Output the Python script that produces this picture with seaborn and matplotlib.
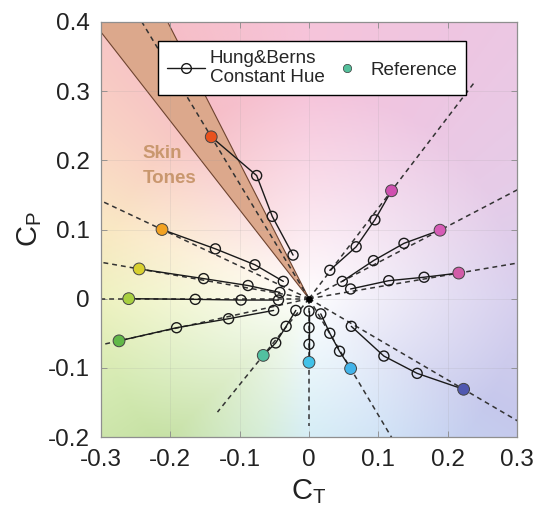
import numpy as np
import pandas as pd
import matplotlib
matplotlib.use("Agg")
import matplotlib.pyplot as plt
from matplotlib.lines import Line2D
from matplotlib.patches import Polygon
from matplotlib.colors import to_rgb
import seaborn as sns

# ---------------- data ----------------
ref_ct = [-0.141, -0.212, -0.245, -0.260, -0.274, -0.066, 0.000, 0.060, 0.223, 0.119, 0.189, 0.216]
ref_cp = [0.234, 0.100, 0.043, 0.000, -0.061, -0.082, -0.092, -0.101, -0.131, 0.156, 0.099, 0.037]
ref_colors = ["#E8521E", "#F2A222", "#D8D030", "#A8D040", "#62B848", "#52C0A0",
              "#42C2E8", "#42B4EA", "#5058B0", "#D050B0", "#D65CB6", "#D25CA8"]

hb_ct = [[-0.023, -0.053, -0.0755],
         [-0.037, -0.078, -0.135],
         [-0.042, -0.088, -0.152],
         [-0.044, -0.098, -0.164],
         [-0.051, -0.116, -0.191],
         [-0.019, -0.033, -0.048],
         [0.000, 0.000, 0.000],
         [0.017, 0.030, 0.044],
         [0.061, 0.108, 0.156],
         [0.030, 0.068, 0.095],
         [0.048, 0.093, 0.137],
         [0.060, 0.115, 0.166]]
hb_cp = [[0.063, 0.119, 0.178],
         [0.025, 0.049, 0.072],
         [0.009, 0.019, 0.029],
         [-0.002, -0.002, -0.001],
         [-0.017, -0.029, -0.042],
         [-0.017, -0.040, -0.064],
         [-0.018, -0.042, -0.066],
         [-0.022, -0.050, -0.076],
         [-0.040, -0.083, -0.108],
         [0.041, 0.075, 0.114],
         [0.025, 0.055, 0.080],
         [0.014, 0.026, 0.031]]

skin_angles_deg = [117.0, 127.9]

x_ticks = [-0.3, -0.2, -0.1, 0.0, 0.1, 0.2, 0.3]
x_ticklabels = ["-0.3", "-0.2", "-0.1", "0", "0.1", "0.2", "0.3"]
y_ticks = [-0.2, -0.1, 0.0, 0.1, 0.2, 0.3, 0.4]
y_ticklabels = ["-0.2", "-0.1", "0", "0.1", "0.2", "0.3", "0.4"]

# ---------------- style ----------------
sns.set_style("ticks")
plt.rcParams["font.family"] = ["Liberation Sans", "DejaVu Sans"]
plt.rcParams["mathtext.fontset"] = "custom"
plt.rcParams["mathtext.rm"] = "Liberation Sans"
plt.rcParams["mathtext.it"] = "Liberation Sans"

fig = plt.figure(figsize=(5.36, 5.13), dpi=100)
ax = fig.add_axes([101 / 536, 1 - 437 / 513, 416 / 536, 415 / 513])

# ---------------- background hue plane ----------------
anchor_deg = [0, 30, 60, 90, 120, 140, 160, 180, 205, 225, 250, 270, 300, 330, 360]
anchor_col = ["#D8D0EE", "#E6CCE8", "#EEC6E2", "#F6C4DA", "#F6BEC6", "#F9D2C4", "#FAE8C4",
              "#EEF2C0", "#D4EAB2", "#C4E0A2", "#C6E6C6", "#C4E6F2", "#C4DAF4", "#C6C8EC", "#D8D0EE"]
anc = np.array([to_rgb(c) for c in anchor_col])
gx, gy = np.meshgrid(np.linspace(-0.3, 0.3, 300), np.linspace(-0.2, 0.4, 300))
ang = np.degrees(np.arctan2(gy, gx)) % 360
rad = np.hypot(gx, gy)
w = np.clip(rad / 0.3, 0, 1) ** 0.9
img = np.zeros(gx.shape + (3,))
for k in range(3):
    img[..., k] = np.interp(ang, anchor_deg, anc[:, k])
img = 1 - w[..., None] * (1 - img)
ax.imshow(img, extent=[-0.3, 0.3, -0.2, 0.4], origin="lower", aspect="auto", zorder=0)

# ---------------- skin tone wedge ----------------
a0, a1 = np.radians(skin_angles_deg)
wedge = Polygon([[0, 0], [0.8 * np.cos(a0), 0.8 * np.sin(a0)], [0.8 * np.cos(a1), 0.8 * np.sin(a1)]],
                closed=True, facecolor="#DCA88C", edgecolor="#6E4430", lw=0.8, zorder=1)
ax.add_patch(wedge)
ax.text(-0.2395, 0.2035, "Skin", color="#C9976E", fontsize=13.5, fontweight="bold", zorder=2)
ax.text(-0.2395, 0.167, "Tones", color="#C9976E", fontsize=13.5, fontweight="bold", zorder=2)

# ---------------- dashed constant-hue directions ----------------
dash_rows = []
for i, (cx, cy) in enumerate(zip(ref_ct, ref_cp)):
    dash_rows.append({"id": i, "order": 0, "CT": 0.0, "CP": 0.0})
    dash_rows.append({"id": i, "order": 1, "CT": 2 * cx, "CP": 2 * cy})
dash_df = pd.DataFrame(dash_rows)
sns.lineplot(data=dash_df, x="CT", y="CP", units="id", estimator=None, sort=False,
             color="#333333", lw=1.1, linestyle=(0, (3.2, 2.6)), legend=False, ax=ax, zorder=3)

# ---------------- Hung & Berns lines ----------------
hb_rows = []
for i in range(len(ref_ct)):
    xs = hb_ct[i] + [ref_ct[i]]
    ys = hb_cp[i] + [ref_cp[i]]
    for j, (xv, yv) in enumerate(zip(xs, ys)):
        hb_rows.append({"id": i, "order": j, "CT": xv, "CP": yv})
hb_df = pd.DataFrame(hb_rows)
sns.lineplot(data=hb_df, x="CT", y="CP", units="id", estimator=None, sort=False,
             color="#1a1a1a", lw=1.0, legend=False, ax=ax, zorder=4)

circ_df = pd.DataFrame({"CT": np.ravel(hb_ct), "CP": np.ravel(hb_cp)})
sns.scatterplot(data=circ_df, x="CT", y="CP", s=52, marker="o", facecolors="none",
                edgecolor="#1a1a1a", linewidth=1.0, legend=False, ax=ax, zorder=5)

# white point
sns.scatterplot(x=[0.0], y=[0.0], s=20, color="black", edgecolor="black", legend=False, ax=ax, zorder=6)

# reference points
ref_df = pd.DataFrame({"CT": ref_ct, "CP": ref_cp, "col": ref_colors})
sns.scatterplot(data=ref_df, x="CT", y="CP", hue="col", palette=dict(zip(ref_colors, ref_colors)),
                s=72, edgecolor="#444444", linewidth=0.7, legend=False, ax=ax, zorder=7)

# ---------------- axes ----------------
ax.set_xlim(-0.3, 0.3)
ax.set_ylim(-0.2, 0.4)
ax.set_xticks(x_ticks)
ax.set_xticklabels(x_ticklabels)
ax.set_yticks(y_ticks)
ax.set_yticklabels(y_ticklabels)
ax.tick_params(direction="in", length=4, width=0.6, color="#8a8a8a", labelsize=17.5,
               labelcolor="#222222", top=True, right=True)
ax.tick_params(axis="x", pad=9)
ax.tick_params(axis="y", pad=8)
ax.grid(True, color="#9a9a9a", alpha=0.18, lw=0.6)
ax.set_axisbelow(False)
for sp in ax.spines.values():
    sp.set_color("#8f8f8f")
    sp.set_linewidth(0.9)
    sp.set_zorder(10)
ax.set_xlabel(r"$\mathregular{C_T}$", fontsize=21, color="#222222", labelpad=4)
ax.set_ylabel(r"$\mathregular{C_P}$", fontsize=21, color="#222222", labelpad=3)

# ---------------- legend ----------------
h1 = Line2D([], [], color="#1a1a1a", lw=1.0, marker="o", markersize=7, markerfacecolor="none",
            markeredgecolor="#1a1a1a")
h2 = Line2D([], [], lw=0, marker="o", markersize=6, markerfacecolor="#55C09C",
            markeredgecolor="#3a3a3a", markeredgewidth=0.5)
leg = ax.legend([h1, h2], ["Hung&Berns\nConstant Hue", "Reference"], ncol=2, loc="upper left",
                bbox_to_anchor=((158 - 101) / 416, (437 - 41) / 415), borderaxespad=0,
                fontsize=13.6, frameon=True, fancybox=False, framealpha=1, edgecolor="black",
                handlelength=2.0, handletextpad=0.25, columnspacing=0.15, borderpad=0.5)
for t in leg.get_texts():
    t.set_linespacing(1.1)
leg.get_frame().set_linewidth(1.0)
leg.set_zorder(20)

fig.savefig("out.png", dpi=100)
